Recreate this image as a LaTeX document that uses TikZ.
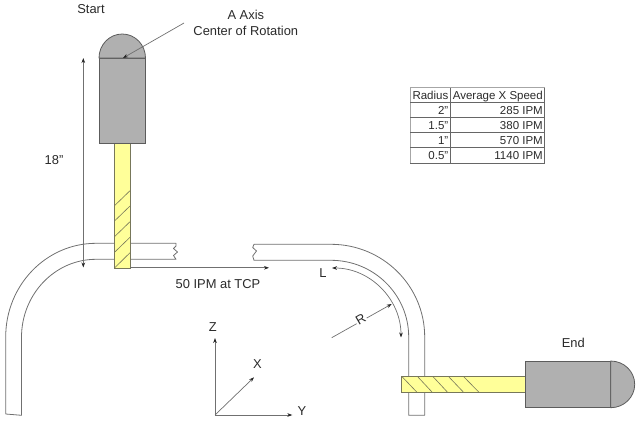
\documentclass[tikz,border=0pt]{standalone}
\usepackage{fontspec}
\setmainfont{Liberation Sans}
\usetikzlibrary{arrows.meta}
\definecolor{ln}{HTML}{707070}
\definecolor{bodyc}{HTML}{B0B0B0}
\definecolor{bodyl}{HTML}{5C5C5C}
\definecolor{yel}{HTML}{FFFF99}
\definecolor{yell}{HTML}{77775A}
\definecolor{txt}{HTML}{2A2A2A}
\definecolor{tipc}{HTML}{262626}
\begin{document}
\begin{tikzpicture}[x=1pt,y=-1pt,
  tube/.style={draw=ln,line width=0.8pt,line join=round},
  toolbody/.style={draw=bodyl,fill=bodyc,line width=0.8pt},
  shank/.style={draw=yell,fill=yel,line width=0.8pt},
  hatchline/.style={draw=yell,line width=0.6pt},
  dim/.style={draw=ln,line width=0.7pt},
  tip/.style={-{Stealth[length=5pt,width=3.6pt,color=tipc]}},
  tips/.style={{Stealth[length=5pt,width=3.6pt,color=tipc]}-{Stealth[length=5pt,width=3.6pt,color=tipc]}},
  lab/.style={text=txt,font=\fontsize{12.9}{15.4}\selectfont,inner sep=0pt,align=center},
  cell/.style={text=txt,font=\fontsize{11.5}{13}\selectfont,inner sep=0pt},
  rule/.style={draw=black!60,line width=0.9pt},
  ruleo/.style={draw=black!35,line width=0.8pt}]
\useasboundingbox (0,0) rectangle (640,421);
% left tube
\draw[tube] (21.5,415.3) -- (5.7,414) -- (5.7,337) arc[start angle=-180,end angle=-90,x radius=90.3,y radius=93.7] -- (176,243.3)
  -- (176,246) -- (173.5,248.5) -- (177.5,252) -- (173.5,255.5) -- (176,259.3) -- (96,259.3)
  arc[start angle=-90,end angle=-180,x radius=74.5,y radius=78] -- cycle;
% right tube
\draw[tube] (254,244.3) -- (331,244.3) arc[start angle=-90,end angle=0,x radius=93.7,y radius=92.7] -- (424.7,415.3) -- (408.7,415.3) -- (408.7,337)
  arc[start angle=0,end angle=-90,x radius=77.7,y radius=76.7] -- (254,260.3)
  -- (252.7,256) -- (256.5,251) -- (252.7,247.5) -- cycle;
% start tool
\draw[shank] (114.5,143.5) rectangle (130,268);
\draw[hatchline] (114.5,205.7) -- (130,190.7);
\draw[hatchline] (114.5,221) -- (130,206);
\draw[hatchline] (114.5,236.7) -- (130,221.7);
\draw[hatchline] (114.5,252.3) -- (130,237.3);
\draw[hatchline] (114.5,268) -- (130,252.7);
\draw[toolbody] (99,58) rectangle (145.5,143.5);
\draw[toolbody] (99,58) arc[start angle=-180,end angle=0,x radius=23.25,y radius=24] -- cycle;
% end tool
\draw[shank] (401.3,376.3) rectangle (525.3,392);
\draw[hatchline] (401.7,376.3) -- (416.7,392);
\draw[hatchline] (417.3,376.3) -- (432,392);
\draw[hatchline] (432.7,376.3) -- (447.3,392);
\draw[hatchline] (448.3,376.3) -- (463.3,392);
\draw[hatchline] (463.3,376.3) -- (478.7,392);
\draw[toolbody] (525.3,361) rectangle (610.7,407.7);
\draw[toolbody] (610.7,361) arc[start angle=-90,end angle=90,x radius=24,y radius=23.35] -- cycle;
% labels
\node[lab] (start) at (91,9) {Start};
\node[lab] (aaxis) at (245.8,23) {A Axis\\Center of Rotation};
\node[lab] (eighteen) at (54,160.5) {18"};
\node[lab] (ipm) at (218,284) {50 IPM at TCP};
\node[lab] (ll) at (323,273) {L};
\node[lab] (endl) at (573.3,343) {End};
\node[lab] (zl) at (212.7,327.3) {Z};
\node[lab] (xl) at (257.3,364.3) {X};
\node[lab] (yl) at (302,410.7) {Y};
% dimension lines
\coordinate (rot) at (123,58);
\coordinate (rotfrom) at (184,23);
\draw[dim,tip] (rotfrom) -- (rot);
\coordinate (h1) at (83.3,58);
\coordinate (h2) at (83.3,267.5);
\draw[dim,tips] (h1) -- (h2);
\coordinate (tcp1) at (130,267.8);
\coordinate (tcp2) at (269,267.8);
\draw[dim,tip] (tcp1) -- (tcp2);
\coordinate (lend) at (401,337.5);
\draw[dim,tips] (lend) arc[start angle=0,end angle=-90,x radius=69,y radius=69.5];
\coordinate (r1) at (331.7,337.7);
\coordinate (r2) at (391.7,304);
\draw[dim,tip] (r1) -- (r2);
\node[lab,fill=white,rotate=30,inner sep=1pt] (rl) at (360.7,319.3) {R};
% axes
\coordinate (o) at (215,415);
\coordinate (zt) at (215,338);
\coordinate (yt) at (292.3,415);
\coordinate (xt) at (254,377.3);
\draw[dim,tip] (o) -- (zt);
\draw[dim,tip] (o) -- (yt);
\draw[dim,tip] (o) -- (xt);
% table
\draw[ruleo] (410,163) -- (410,87.7) -- (544.7,87.7);
\draw[rule] (410,102.3) -- (544.7,102.3);
\draw[rule] (410,117.3) -- (544.7,117.3);
\draw[rule] (410,132.3) -- (544.7,132.3);
\draw[rule] (410,147.7) -- (544.7,147.7);
\draw[rule] (410,163) -- (544.7,163);
\draw[rule] (450,87.7) -- (450,163);
\draw[rule] (544.7,87.7) -- (544.7,163);
\node[cell,anchor=base east] (r0a) at (448.5,99) {Radius};
\node[cell,anchor=base east] (r0b) at (543,99) {Average X Speed};
\node[cell,anchor=base east] (r1a) at (448.5,114) {2"};
\node[cell,anchor=base east] (r1b) at (543,114) {285 IPM};
\node[cell,anchor=base east] (r2a) at (448.5,129) {1.5"};
\node[cell,anchor=base east] (r2b) at (543,129) {380 IPM};
\node[cell,anchor=base east] (r3a) at (448.5,144) {1"};
\node[cell,anchor=base east] (r3b) at (543,144) {570 IPM};
\node[cell,anchor=base east] (r4a) at (448.5,159.5) {0.5"};
\node[cell,anchor=base east] (r4b) at (543,159.5) {1140 IPM};
\end{tikzpicture}
\end{document}
